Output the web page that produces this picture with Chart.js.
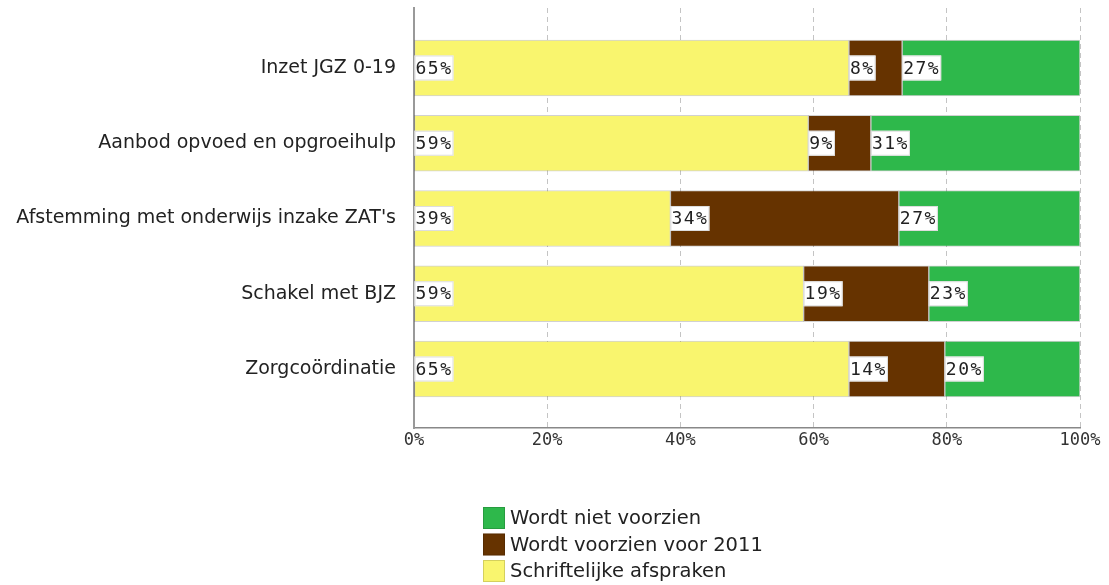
<!DOCTYPE html>
<html>
<head>
<meta charset="utf-8">
<script src="https://cdn.jsdelivr.net/npm/chart.js@4.4.1/dist/chart.umd.min.js"></script>
<style>
  html, body { margin: 0; padding: 0; background: #fff; }
  #wrap { width: 1109px; height: 585px; position: relative; }
</style>
</head>
<body>
<div id="wrap"><canvas id="chart"></canvas></div>
<script>
// categories (top to bottom)
const categories = [
    'Inzet JGZ 0-19',
    'Aanbod opvoed en opgroeihulp',
    "Afstemming met onderwijs inzake ZAT's",
    'Schakel met BJZ',
    'Zorgcoördinatie'
];

// percentages per series, same order as categories
const schriftelijk = [65.3, 59.2, 38.5, 58.5, 65.3];
const voorzien2011 = [8.0, 9.4, 34.3, 18.8, 14.4];
const nietVoorzien = [26.7, 31.4, 27.2, 22.7, 20.3];

const seriesNames = ['Schriftelijke afspraken', 'Wordt voorzien voor 2011', 'Wordt niet voorzien'];
const seriesColors = ['#f9f56e', '#663300', '#2eb84b'];

const xTicks = [0, 20, 40, 60, 80, 100];

const toPoints = arr => arr.map((v, i) => ({ x: v, y: i }));

// white label boxes at the start of each segment
const segmentLabels = {
    id: 'segmentLabels',
    afterDatasetsDraw(chart) {
        const ctx = chart.ctx;
        ctx.save();
        ctx.font = '18px "DejaVu Sans Mono"';
        ctx.letterSpacing = '1.5px';
        ctx.textBaseline = 'middle';
        ctx.textAlign = 'left';
        chart.data.datasets.forEach((ds, i) => {
            const meta = chart.getDatasetMeta(i);
            meta.data.forEach((el, j) => {
                const txt = Math.round(ds.data[j].x) + '%';
                const left = Math.min(el.base, el.x);
                const w = ctx.measureText(txt).width + 2;
                ctx.fillStyle = '#fff';
                ctx.fillRect(left, el.y - 12.5, w, 25);
                ctx.strokeStyle = '#ddd';
                ctx.lineWidth = 1;
                ctx.strokeRect(left + 0.5, el.y - 12, w - 1, 24);
                ctx.fillStyle = '#222';
                ctx.fillText(txt, left + 1, el.y + 1);
            });
        });
        ctx.restore();
    }
};

// vertical legend under the chart, reversed order
const stackedLegend = {
    id: 'stackedLegend',
    afterDraw(chart) {
        const ctx = chart.ctx;
        ctx.save();
        ctx.font = '19.5px "DejaVu Sans"';
        ctx.textBaseline = 'middle';
        const order = [2, 1, 0];
        order.forEach((k, row) => {
            const top = 507 + row * 26.5;
            ctx.fillStyle = seriesColors[k];
            ctx.fillRect(483, top, 22, 22);
            ctx.strokeStyle = 'rgba(0,0,0,0.15)';
            ctx.strokeRect(483.5, top + 0.5, 21, 21);
            ctx.fillStyle = '#222';
            ctx.fillText(seriesNames[k], 510, top + 12);
        });
        ctx.restore();
    }
};

const ctx = document.getElementById('chart').getContext('2d');
const chart = new Chart(ctx, {
    type: 'bar',
    data: {
        datasets: [
            { label: seriesNames[0], data: toPoints(schriftelijk), backgroundColor: seriesColors[0] },
            { label: seriesNames[1], data: toPoints(voorzien2011), backgroundColor: seriesColors[1] },
            { label: seriesNames[2], data: toPoints(nietVoorzien), backgroundColor: seriesColors[2] }
        ]
    },
    options: {
        indexAxis: 'y',
        responsive: true,
        maintainAspectRatio: false,
        animation: false,
        layout: { padding: { left: 0, right: 29, top: 8, bottom: 127 } },
        datasets: {
            bar: {
                barThickness: 56,
                borderWidth: 1,
                borderColor: 'rgba(0,0,0,0.18)',
                borderSkipped: false
            }
        },
        plugins: {
            legend: { display: false },
            tooltip: { enabled: false }
        },
        scales: {
            x: {
                type: 'linear',
                stacked: true,
                min: 0,
                max: 100,
                afterBuildTicks: s => { s.ticks = xTicks.map(v => ({ value: v })); },
                afterFit: s => { s.height = 30; },
                ticks: {
                    callback: v => v + '%',
                    font: { family: 'DejaVu Sans Mono', size: 17 },
                    color: '#333',
                    padding: 2,
                    maxRotation: 0,
                    autoSkip: false
                },
                grid: { color: '#c4c4c4', drawTicks: false },
                border: { color: '#888', width: 1.5, dash: [5, 4] }
            },
            y: {
                type: 'linear',
                stacked: true,
                reverse: true,
                offset: false,
                min: -0.797,
                max: 4.784,
                afterBuildTicks: s => { s.ticks = categories.map((c, i) => ({ value: i })); },
                afterFit: s => { s.width = 414; s.paddingTop = 0; s.paddingBottom = 0; },
                ticks: {
                    callback: v => categories[v],
                    font: { family: 'DejaVu Sans', size: 19 },
                    color: '#222',
                    padding: 10,
                    autoSkip: false
                },
                grid: { display: false },
                border: { color: '#999', width: 2 }
            }
        }
    },
    plugins: [segmentLabels, stackedLegend]
});
</script>
</body>
</html>
